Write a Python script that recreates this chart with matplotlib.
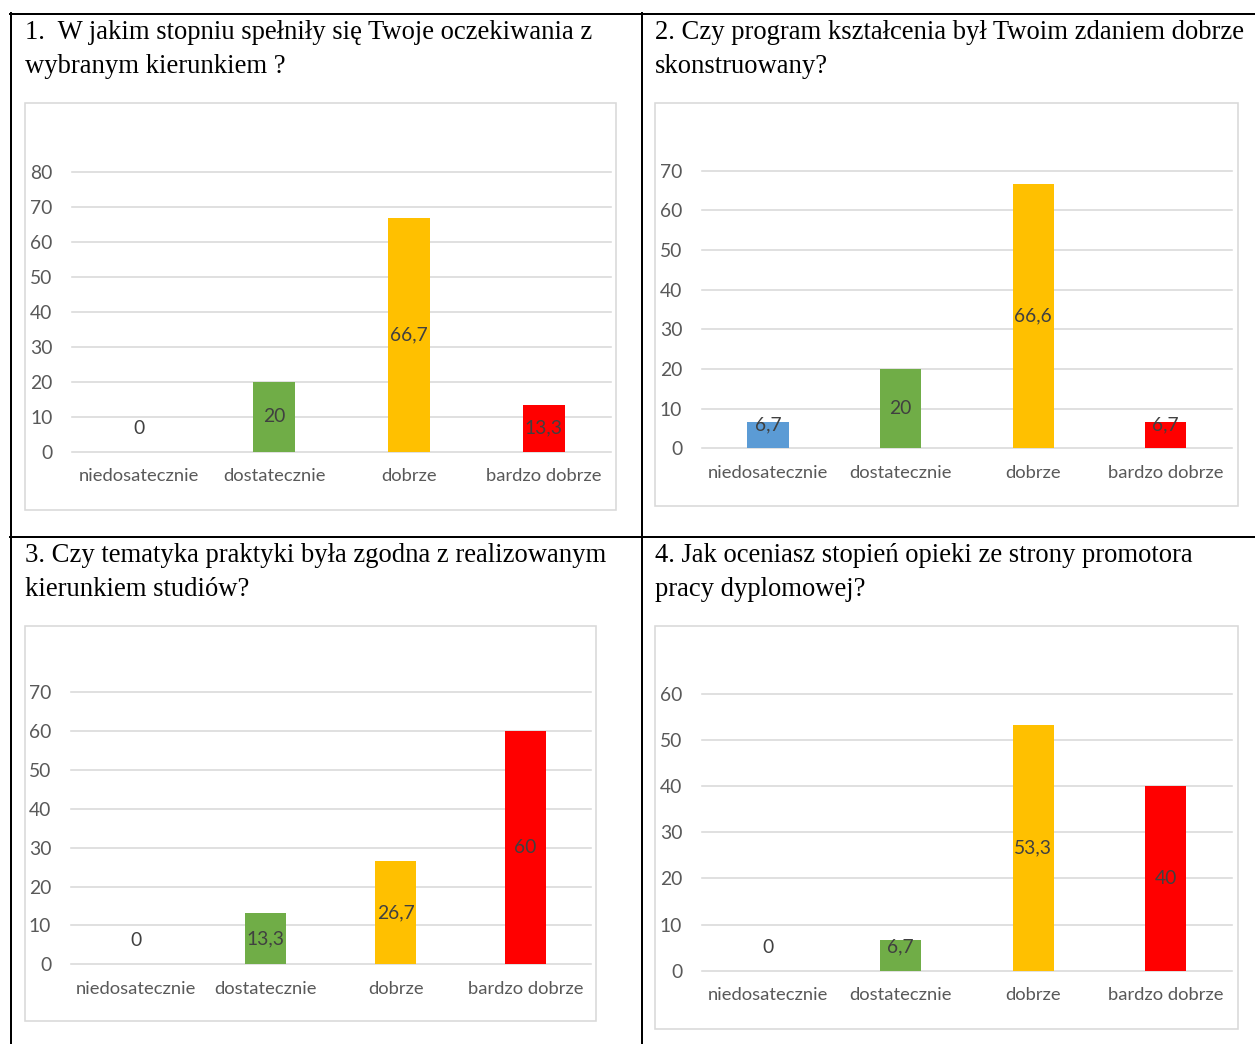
import matplotlib
matplotlib.use("Agg")
import matplotlib.pyplot as plt
from matplotlib.patches import Rectangle
from matplotlib.lines import Line2D

W, H = 1255, 1044
DPI = 100

categories = ['niedosatecznie', 'dostatecznie', 'dobrze', 'bardzo dobrze']
bar_colors = ['#5B9BD5', '#70AD47', '#FFC000', '#FF0000']

q1_values = [0, 20, 66.7, 13.3]
q2_values = [6.7, 20, 66.6, 6.7]
q3_values = [0, 13.3, 26.7, 60]
q4_values = [0, 6.7, 53.3, 40]

q1_title = ["1.  W jakim stopniu spełniły się Twoje oczekiwania z", "wybranym kierunkiem ?"]
q2_title = ["2. Czy program kształcenia był Twoim zdaniem dobrze", "skonstruowany?"]
q3_title = ["3. Czy tematyka praktyki była zgodna z realizowanym", "kierunkiem studiów?"]
q4_title = ["4. Jak oceniasz stopień opieki ze strony promotora", "pracy dyplomowej?"]

q1_ymax, q2_ymax, q3_ymax, q4_ymax = 80, 70, 70, 60

fig = plt.figure(figsize=(W / DPI, H / DPI), dpi=DPI)
fig.patch.set_facecolor('white')

def fx(px):
    return px / W

def fy(py):
    return 1 - py / H

SANS = ['Lato', 'DejaVu Sans']
SERIF = ['Liberation Serif', 'DejaVu Serif']
TICK_COLOR = '#595959'
GRID_COLOR = '#D9D9D9'
LABEL_COLOR = '#404040'
FS = 13.2
FS_NUM = 13.9

# table borders
def hline(y, x0, x1, lw=2.0):
    fig.add_artist(Line2D([fx(x0), fx(x1)], [fy(y), fy(y)], color='black', lw=lw * 72 / DPI, transform=fig.transFigure))

def vline(x, y0, y1, lw=2.0):
    fig.add_artist(Line2D([fx(x), fx(x)], [fy(y0), fy(y1)], color='black', lw=lw * 72 / DPI, transform=fig.transFigure))

hline(13.8, 9.5, 1255)
hline(536.5, 9.5, 1255)
vline(10.5, 13, 1044)
vline(641.5, 13, 1044)

def panel(title_lines, title_x, title_y, box, axrect, values, ymax):
    # title
    for i, line in enumerate(title_lines):
        fig.text(fx(title_x), fy(title_y + i * 34), line, family=SERIF, fontsize=19.2,
                 color='black', ha='left', va='center')
    # chart box
    bx0, by0, bx1, by1 = box
    fig.add_artist(Rectangle((fx(bx0), fy(by1)), fx(bx1) - fx(bx0), fy(by0) - fy(by1),
                             transform=fig.transFigure, facecolor='white',
                             edgecolor=GRID_COLOR, lw=1.6 * 72 / DPI, zorder=0))
    ax0, ay0, ax1, ay1 = axrect
    ax = fig.add_axes([fx(ax0), fy(ay1), fx(ax1) - fx(ax0), fy(ay0) - fy(ay1)])
    ax.set_facecolor('none')
    x = list(range(len(categories)))
    ax.bar(x, values, width=0.31, color=bar_colors, linewidth=0, zorder=2)
    ax.set_xlim(-0.5, len(categories) - 0.5)
    ax.set_ylim(0, ymax)
    ax.set_yticks(list(range(0, ymax + 1, 10)))
    ax.set_xticks(x)
    ax.set_xticklabels(categories, family=SANS, fontsize=FS, color=TICK_COLOR)
    for lab in ax.get_yticklabels():
        lab.set_family(SANS)
        lab.set_fontsize(FS_NUM)
        lab.set_color(TICK_COLOR)
    ax.tick_params(axis='y', length=0, pad=14)
    ax.tick_params(axis='x', length=0, pad=12)
    for s in ax.spines.values():
        s.set_visible(False)
    ax.set_axisbelow(True)
    ax.yaxis.grid(True, color=GRID_COLOR, lw=1.6 * 72 / DPI)
    for gl in ax.get_ygridlines():
        gl.set_clip_on(False)
    # data labels
    px_per_unit = (ay1 - ay0) / ymax
    min_center = 23.5 / px_per_unit
    for xi, v in zip(x, values):
        txt = format(v, 'g').replace('.', ',')
        yc = max(v / 2, min_center)
        ax.text(xi, yc, txt, ha='center', va='center', family=SANS, fontsize=FS_NUM,
                color=LABEL_COLOR, zorder=3)
    return ax

panel(q1_title, 25, 32.5, (25, 103, 616, 510), (72, 171.7, 611, 451.7), q1_values, q1_ymax)
panel(q2_title, 655, 32.5, (655, 103, 1238, 506), (701.7, 170.7, 1232, 448.3), q2_values, q2_ymax)
panel(q3_title, 25, 555.5, (25, 626, 596, 1021), (70.6, 692.3, 590.6, 964.3), q3_values, q3_ymax)
panel(q4_title, 655, 555.5, (655, 626, 1238, 1029), (701.7, 693.7, 1232, 970.7), q4_values, q4_ymax)

fig.savefig('out.png', dpi=DPI, facecolor='white')
